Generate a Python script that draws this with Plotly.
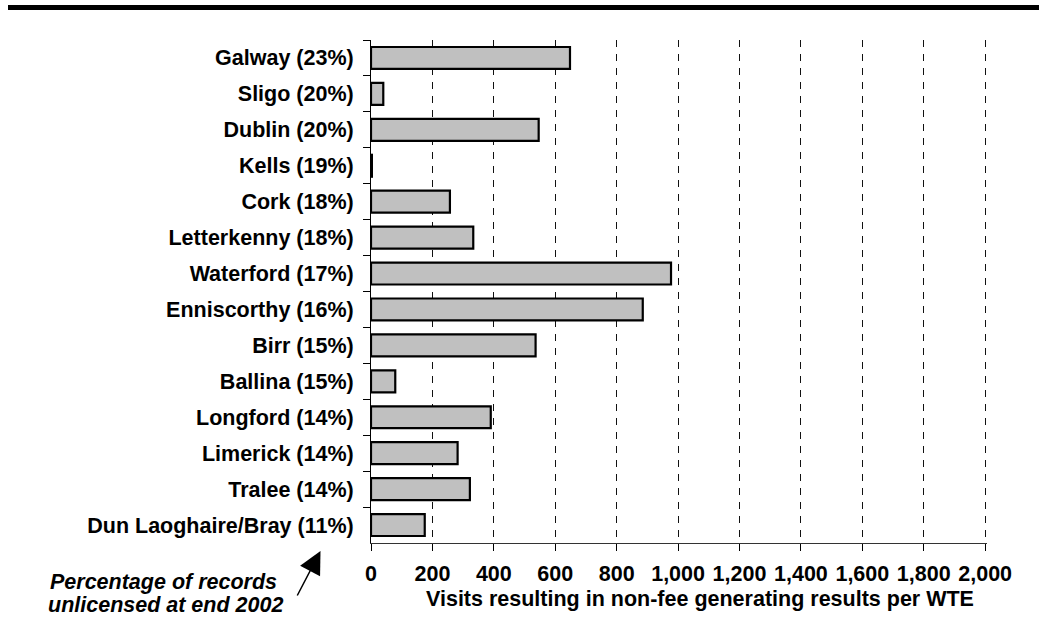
import plotly.graph_objects as go

# Offices, top to bottom, with share of records unlicensed at end 2002
offices = [
    "Galway (23%)", "Sligo (20%)", "Dublin (20%)", "Kells (19%)", "Cork (18%)",
    "Letterkenny (18%)", "Waterford (17%)", "Enniscorthy (16%)", "Birr (15%)",
    "Ballina (15%)", "Longford (14%)", "Limerick (14%)", "Tralee (14%)",
    "Dun Laoghaire/Bray (11%)",
]
# Visits resulting in non-fee generating results per WTE
visits = [648, 40, 546, 3, 257, 333, 977, 885, 536, 79, 390, 282, 322, 175]

x_ticks = [0, 200, 400, 600, 800, 1000, 1200, 1400, 1600, 1800, 2000]

FONT = "Liberation Sans, Arial, Helvetica, sans-serif"
FS = 21.5

W, H = 1039, 617
ML, MR, MT, MB = 371, 52, 40, 74
PW, PH = W - ML - MR, H - MT - MB


def px_x(p):
    return (p - ML) / PW


def px_y(p):
    return (H - MB - p) / PH


fig = go.Figure(
    go.Bar(
        x=visits,
        y=offices,
        orientation="h",
        marker=dict(color="#C0C0C0", line=dict(color="black", width=2.2)),
        hoverinfo="x+y",
    )
)

fig.update_layout(
    width=W,
    height=H,
    margin=dict(l=ML, r=MR, t=MT, b=MB, pad=0),
    paper_bgcolor="white",
    plot_bgcolor="white",
    bargap=0.39,
    showlegend=False,
    font=dict(family=FONT, size=FS, color="black"),
)

# A little headroom past 2,000 so the last dashed gridline is kept
fig.update_xaxes(
    range=[0, 2006],
    tickvals=x_ticks,
    tickformat=",d",
    ticks="outside",
    ticklen=7,
    tickwidth=1,
    tickcolor="black",
    ticklabelstandoff=4,
    tickfont=dict(family=FONT, size=FS, color="black", weight="bold"),
    showline=True,
    linecolor="#333333",
    linewidth=1,
    showgrid=True,
    gridcolor="#111111",
    gridwidth=1,
    griddash="7px,7px",
    zeroline=False,
)

fig.update_yaxes(
    type="category",
    autorange="reversed",
    tickson="boundaries",
    ticks="outside",
    ticklen=7,
    tickwidth=1,
    tickcolor="black",
    ticklabelstandoff=12,
    tickfont=dict(family=FONT, size=FS, color="black", weight="bold"),
    showline=True,
    linecolor="black",
    linewidth=1,
    showgrid=False,
    zeroline=False,
)

# Heavy rule across the top of the page
fig.add_shape(
    type="rect",
    xref="paper",
    yref="paper",
    x0=px_x(8),
    x1=px_x(1039),
    y0=px_y(10),
    y1=px_y(5),
    fillcolor="black",
    line=dict(width=0),
    layer="above",
)

# Axis title
fig.add_annotation(
    text="Visits resulting in non-fee generating results per WTE",
    xref="paper",
    yref="paper",
    x=px_x(700),
    y=px_y(599),
    xanchor="center",
    yanchor="middle",
    showarrow=False,
    font=dict(family=FONT, size=FS, color="black", weight="bold"),
)

# Note explaining the percentages in the category labels
note_font = dict(family=FONT, size=FS, color="black", weight="bold", style="italic")
fig.add_annotation(
    text="Percentage of records",
    xref="paper", yref="paper",
    x=px_x(163), y=px_y(582),
    xanchor="center", yanchor="middle",
    showarrow=False, font=note_font,
)
fig.add_annotation(
    text="unlicensed at end 2002",
    xref="paper", yref="paper",
    x=px_x(165.5), y=px_y(605),
    xanchor="center", yanchor="middle",
    showarrow=False, font=note_font,
)

# Arrow pointing from the note up to the category labels
fig.add_annotation(
    text="",
    xref="paper", yref="paper",
    x=px_x(320.5), y=px_y(551),
    ax=-24, ay=46,
    showarrow=True,
    arrowhead=2,
    arrowsize=3.0,
    arrowwidth=1.5,
    arrowcolor="black",
)

fig.write_html("out.html")
